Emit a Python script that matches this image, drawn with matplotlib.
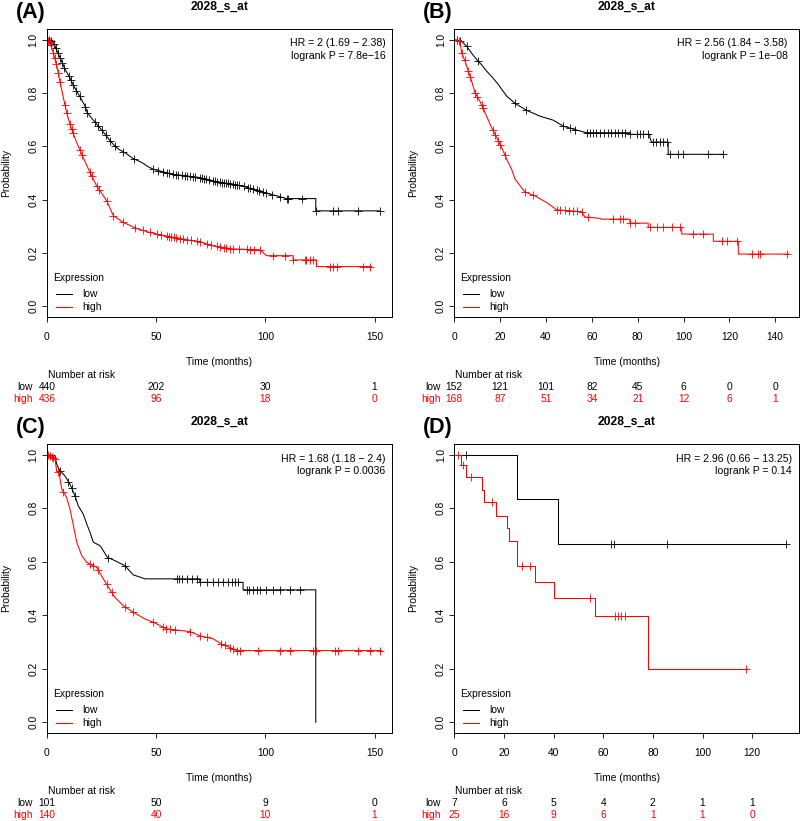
import numpy as np
import matplotlib
matplotlib.use("Agg")
import matplotlib.pyplot as plt
import matplotlib.transforms as mtransforms

plt.rcParams['font.family'] = ['Liberation Sans', 'DejaVu Sans']
plt.rcParams['axes.unicode_minus'] = True

W, H = 800, 821
RED = '#FF0000'

# ---------------- data ----------------
# panel A
a_low_t = [0, 2, 3.7, 5, 6.7, 8.5, 10.5, 12, 13.6, 15.5, 17.4, 18.5, 21, 23.5, 25.5, 27.3, 29, 31.1, 33,
           35.7, 39.5, 42, 44.1, 46, 48.7, 53, 57.8, 63, 70, 74, 77.7, 85.3, 90, 94.4, 100.5, 105, 109.7,
           123.1, 123.1, 152.5]
a_low_s = [1, 0.995, 0.975, 0.95, 0.919, 0.885, 0.857, 0.83, 0.807, 0.78, 0.751, 0.726, 0.70, 0.676, 0.657,
           0.638, 0.62, 0.601, 0.588, 0.576, 0.554, 0.545, 0.536, 0.525, 0.514, 0.505, 0.495, 0.49, 0.483,
           0.475, 0.467, 0.458, 0.45, 0.439, 0.424, 0.415, 0.404, 0.404, 0.358, 0.358]
a_low_c = [1, 2, 3, 4, 5, 6, 7, 8, 10, 11, 12, 13.5, 15, 17.5, 18.5, 22, 23.5, 25, 27, 29, 31, 35, 40,
           48.7, 51, 53.3, 55, 56, 57.8, 59, 60, 61.6, 63, 64, 65.5, 67, 68, 70, 71, 72, 73, 74, 76.1, 77,
           78, 79, 80, 81, 82, 83, 84, 85.3, 86, 87, 88, 90, 92, 93, 94.4, 96, 97, 99, 100.5, 103,
           106.6, 109.7, 110.5, 116.6, 123.4, 130.8, 133.3, 142.5, 152.5]
a_high_t = [0, 1.5, 2.9, 4.7, 5.9, 7.2, 9.0, 11.0, 13.3, 15.9, 19.7, 22.7, 25, 27.3, 30.4, 34.9, 41.0, 47.1,
            52, 57.8, 64, 70, 76.1, 85.3, 97.5, 100.5, 112.7, 112.7, 123.4, 123.4, 148.6]
a_high_s = [1, 0.99, 0.95, 0.894, 0.844, 0.794, 0.726, 0.670, 0.620, 0.570, 0.502, 0.452, 0.425, 0.396,
            0.340, 0.315, 0.292, 0.277, 0.268, 0.259, 0.25, 0.242, 0.227, 0.215, 0.212, 0.19, 0.19, 0.174,
            0.174, 0.149, 0.149]
a_high_c = [0.6, 1.2, 1.8, 2.9, 3.5, 4.2, 5.2, 6, 8.2, 9, 10.5, 11.3, 12, 15.1, 16, 19.7, 20.5, 22.7, 24,
            27.3, 30.4, 34.9, 40.3, 44.1, 47, 50.2, 52, 54.8, 56, 57, 58, 59.3, 61, 62.5, 63.9, 66, 68.5,
            70, 73.1, 75, 77.7, 79, 81, 82.2, 84, 85.3, 88, 91.4, 93, 95, 97.5, 103.6, 108.9, 112.7,
            118, 118.8, 120.5, 121.9, 129.5, 131, 132.6, 144.8, 147.8]

# panel B
b_low_t = [0, 3.2, 5.4, 7.5, 9.8, 12, 14.1, 16.5, 19.2, 21, 22.9, 26.5, 31.6, 37.4, 43.2, 47.5, 53.4, 57.7,
           76.6, 76.6, 85.3, 85.3, 86.1, 93.3, 93.3, 117.3]
b_low_s = [1, 0.994, 0.975, 0.95, 0.925, 0.905, 0.882, 0.86, 0.832, 0.81, 0.788, 0.761, 0.735, 0.713, 0.698,
           0.676, 0.661, 0.651, 0.651, 0.645, 0.645, 0.632, 0.616, 0.616, 0.570, 0.570]
b_low_c = [1, 2.5, 5.4, 10.5, 26.5, 31.3, 47.5, 50.5, 52.6, 57.7, 59, 60.6, 62, 63.5, 65.5, 67.2, 68.5,
           70.1, 71.5, 73.0, 74.5, 76.6, 79.5, 81, 82.5, 84.6, 86.8, 88, 89.7, 91, 92.6, 94.1, 97.7, 99.9,
           110.8, 117]
b_high_t = [0, 2.5, 3.2, 4.7, 6.1, 7.6, 9.0, 11.2, 14.1, 16.3, 18.5, 20.7, 22.9, 25.0, 26.5, 28.7, 30.8,
            35.2, 40.3, 44.7, 55.5, 57, 63.5, 64, 76.6, 76.6, 84.6, 84.6, 99.2, 99.2, 113, 113, 123.9,
            123.9, 145.7]
b_high_s = [1, 0.994, 0.95, 0.919, 0.882, 0.844, 0.801, 0.769, 0.713, 0.670, 0.632, 0.595, 0.551, 0.514,
            0.477, 0.452, 0.429, 0.414, 0.389, 0.362, 0.355, 0.335, 0.33, 0.327, 0.327, 0.312, 0.312, 0.296,
            0.296, 0.271, 0.271, 0.244, 0.244, 0.196, 0.196]
b_high_c = [1.0, 2, 3.2, 4.5, 6.1, 7, 9.0, 10, 11.9, 12.5, 16.7, 17.8, 19.2, 20, 22.1, 30.8, 34.5, 44.7,
            46, 48.3, 50, 51.9, 53.5, 55.5, 58.5, 69.4, 72.2, 73.5, 76.6, 78.8, 85.3, 88.3, 91.2, 94.8,
            98.4, 104.2, 108.6, 116.6, 118.8, 123.2, 129.7, 132.5, 133.3, 145]

# panel C
c_low_t = [0, 3.7, 4.4, 5.9, 8.2, 10.5, 12.8, 14.3, 16.6, 18.2, 19.7, 21.2, 24.3, 25.8, 27.6, 31.1, 35.7,
           39.5, 44.9, 70, 70, 89.8, 89.8, 123.1, 123.1]
c_low_s = [1, 0.996, 0.965, 0.94, 0.921, 0.89, 0.847, 0.809, 0.778, 0.741, 0.71, 0.673, 0.66, 0.641, 0.617,
           0.604, 0.585, 0.551, 0.536, 0.536, 0.523, 0.523, 0.495, 0.495, 0.0]
c_low_c = [5.9, 9.8, 11.3, 12.8, 28.1, 35.7, 59.4, 60.5, 61.6, 63.9, 66.2, 68.5, 70, 73.1, 76.1, 78.4,
           80.7, 83, 84.5, 86.0, 87.6, 91.4, 92.5, 94.4, 96, 97.5, 100.5, 103.6, 106.6, 111.2, 115.8]
c_high_t = [0, 3.7, 4.4, 5.6, 6.7, 9.0, 10.5, 12.1, 13.6, 15.9, 18.2, 22.7, 25.8, 28.1, 31.1, 34.9, 39.5,
            44.9, 48.7, 54.8, 65.5, 70, 76.1, 79.9, 86.8, 153.2]
c_high_s = [1, 0.984, 0.94, 0.931, 0.872, 0.84, 0.797, 0.735, 0.673, 0.623, 0.598, 0.579, 0.536, 0.505,
            0.467, 0.436, 0.411, 0.386, 0.374, 0.349, 0.339, 0.323, 0.312, 0.293, 0.268, 0.268]
c_high_c = [0.6, 1.3, 2.1, 2.9, 3.7, 5.2, 7.5, 19.7, 21.2, 23.5, 27.3, 29.6, 35.7, 39.5, 48.7, 53.3, 54.5,
            56.3, 58.6, 65.5, 70, 73.1, 79.9, 81.5, 83.8, 85.3, 86.8, 88.3, 96.8, 106.6, 111.2, 121.9,
            123.4, 131.8, 133.3, 142.5, 147.8, 152.4]

# panel D (visible steps)
d_low_t = [0, 25.3, 41.8, 133.6]
d_low_s = [1, 0.833, 0.667, 0.667]
d_low_c = [4.6, 63.3, 64.3, 85.6, 133.6]
d_high_t = [0, 2.7, 4.6, 11.0, 12.0, 17.0, 21.1, 22.2, 25.1, 32.4, 40.1, 56.8, 78.0, 117.6]
d_high_s = [1, 0.96, 0.917, 0.869, 0.822, 0.772, 0.726, 0.676, 0.583, 0.523, 0.464, 0.399, 0.2, 0.2]
d_high_c = [1.6, 3.6, 6.7, 15.3, 27.1, 30.5, 54.8, 64.6, 65.9, 67.3, 68.6, 117.6]

labels = ['(A)', '(B)', '(C)', '(D)']
hr_text = ['HR = 2 (1.69 \u2212 2.38)', 'HR = 2.56 (1.84 \u2212 3.58)',
           'HR = 1.68 (1.18 \u2212 2.4)', 'HR = 2.96 (0.66 \u2212 13.25)']
p_text = ['logrank P = 7.8e\u221216', 'logrank P = 1e\u221208',
          'logrank P = 0.0036', 'logrank P = 0.14']
risk_ticks = [[0, 50, 100, 150], [0, 20, 40, 60, 80, 100, 120, 140],
              [0, 50, 100, 150], [0, 20, 40, 60, 80, 100, 120]]
risk_low = [[440, 202, 30, 1], [152, 121, 101, 82, 45, 6, 0, 0],
            [101, 50, 9, 0], [7, 6, 5, 4, 2, 1, 1]]
risk_high = [[436, 96, 18, 0], [168, 87, 51, 34, 21, 12, 6, 1],
             [140, 40, 10, 1], [25, 16, 9, 6, 1, 1, 0]]
xmax = [158, 150.5, 158, 139]

curves = [
    (a_low_t, a_low_s, a_low_c, a_high_t, a_high_s, a_high_c, False),
    (b_low_t, b_low_s, b_low_c, b_high_t, b_high_s, b_high_c, False),
    (c_low_t, c_low_s, c_low_c, c_high_t, c_high_s, c_high_c, False),
    (d_low_t, d_low_s, d_low_c, d_high_t, d_high_s, d_high_c, True),
]

# panel boxes in pixels: left, right, top, bottom
boxes = [(47, 392, 29, 317), (454.3, 799.3, 29, 317),
         (47, 392, 444, 733), (454.3, 799.3, 444, 733)]
hr_right = [385.7, 787.7, 385.7, 791.7]


def fx(x):
    return x / W


def fy(y):
    return 1 - y / H


def censor_y(t, s, tc, steps):
    t = np.asarray(t, float)
    s = np.asarray(s, float)
    tc = np.asarray(tc, float)
    if steps:
        idx = np.searchsorted(t, tc, side='right') - 1
        return s[np.clip(idx, 0, len(s) - 1)]
    return np.interp(tc, t, s)


fig = plt.figure(figsize=(W / 100, H / 100), dpi=100)
fs = 7.4

for i in range(4):
    l, r, top, bot = boxes[i]
    ax = fig.add_axes([fx(l), fy(bot), (r - l) / W, (bot - top) / H])
    lt, ls, lc, ht, hs, hc, steps = curves[i]
    ds = 'steps-post' if steps else 'default'
    for t, s, c, col in [(lt, ls, lc, 'black'), (ht, hs, hc, RED)]:
        ax.plot(t, s, color=col, lw=0.75, drawstyle=ds)
        ax.plot(c, censor_y(t, s, c, steps), ls='none', marker='+', ms=5.5, mew=0.6, color=col)

    ax.set_xlim(0, xmax[i])
    ax.set_ylim(-0.04, 1.04)
    ax.set_xticks(risk_ticks[i])
    ax.set_yticks([0, 0.2, 0.4, 0.6, 0.8, 1.0])
    ax.set_yticklabels(['0.0', '0.2', '0.4', '0.6', '0.8', '1.0'], rotation=90, va='center')
    ax.tick_params(axis='x', length=3.6, width=0.6, pad=7, labelsize=fs)
    ax.tick_params(axis='y', length=3.6, width=0.6, pad=2.5, labelsize=fs)
    for sp in ax.spines.values():
        sp.set_linewidth(0.7)

    cx = (l + r) / 2
    fig.text(fx(l - 41), fy((top + bot) / 2), 'Probability', fontsize=fs, rotation=90,
             ha='center', va='center')
    fig.text(fx(cx), fy(bot + 45), 'Time (months)', fontsize=fs, ha='center', va='center')
    fig.text(fx(cx), fy(top - 22), '2028_s_at', fontsize=8.7, fontweight='bold',
             ha='center', va='center')
    fig.text(fx(l - 31), fy(top - 16.5), labels[i], fontsize=15.5, fontweight='bold',
             ha='left', va='center')

    # HR / logrank
    fig.text(fx(hr_right[i]), fy(top + 14.5), hr_text[i], fontsize=7.6, ha='right', va='center')
    fig.text(fx(hr_right[i]), fy(top + 26.8), p_text[i], fontsize=7.6, ha='right', va='center')

    # legend
    fig.text(fx(l + 5.7), fy(bot - 39.3), 'Expression', fontsize=fs, ha='left', va='center')
    for yoff, name, col in [(22.7, 'low', 'black'), (10.3, 'high', RED)]:
        fig.add_artist(plt.Line2D([fx(l + 9), fx(l + 25)], [fy(bot - yoff)] * 2, color=col, lw=0.75))
        fig.text(fx(l + 35), fy(bot - yoff), name, fontsize=fs, ha='left', va='center')

    # number at risk table
    trans = mtransforms.blended_transform_factory(ax.transData, fig.transFigure)
    fig.text(fx(l + 0.7), fy(bot + 58), 'Number at risk', fontsize=fs, ha='left', va='center')
    fig.text(fx(l - 14), fy(bot + 70), 'low', fontsize=fs, ha='right', va='center')
    fig.text(fx(l - 14), fy(bot + 82), 'high', fontsize=fs, ha='right', va='center', color=RED)
    for tk, nl, nh in zip(risk_ticks[i], risk_low[i], risk_high[i]):
        ax.text(tk, fy(bot + 70), str(nl), transform=trans, fontsize=fs, ha='center', va='center',
                clip_on=False)
        ax.text(tk, fy(bot + 82), str(nh), transform=trans, fontsize=fs, ha='center', va='center',
                color=RED, clip_on=False)

fig.savefig('out.png', dpi=100)
